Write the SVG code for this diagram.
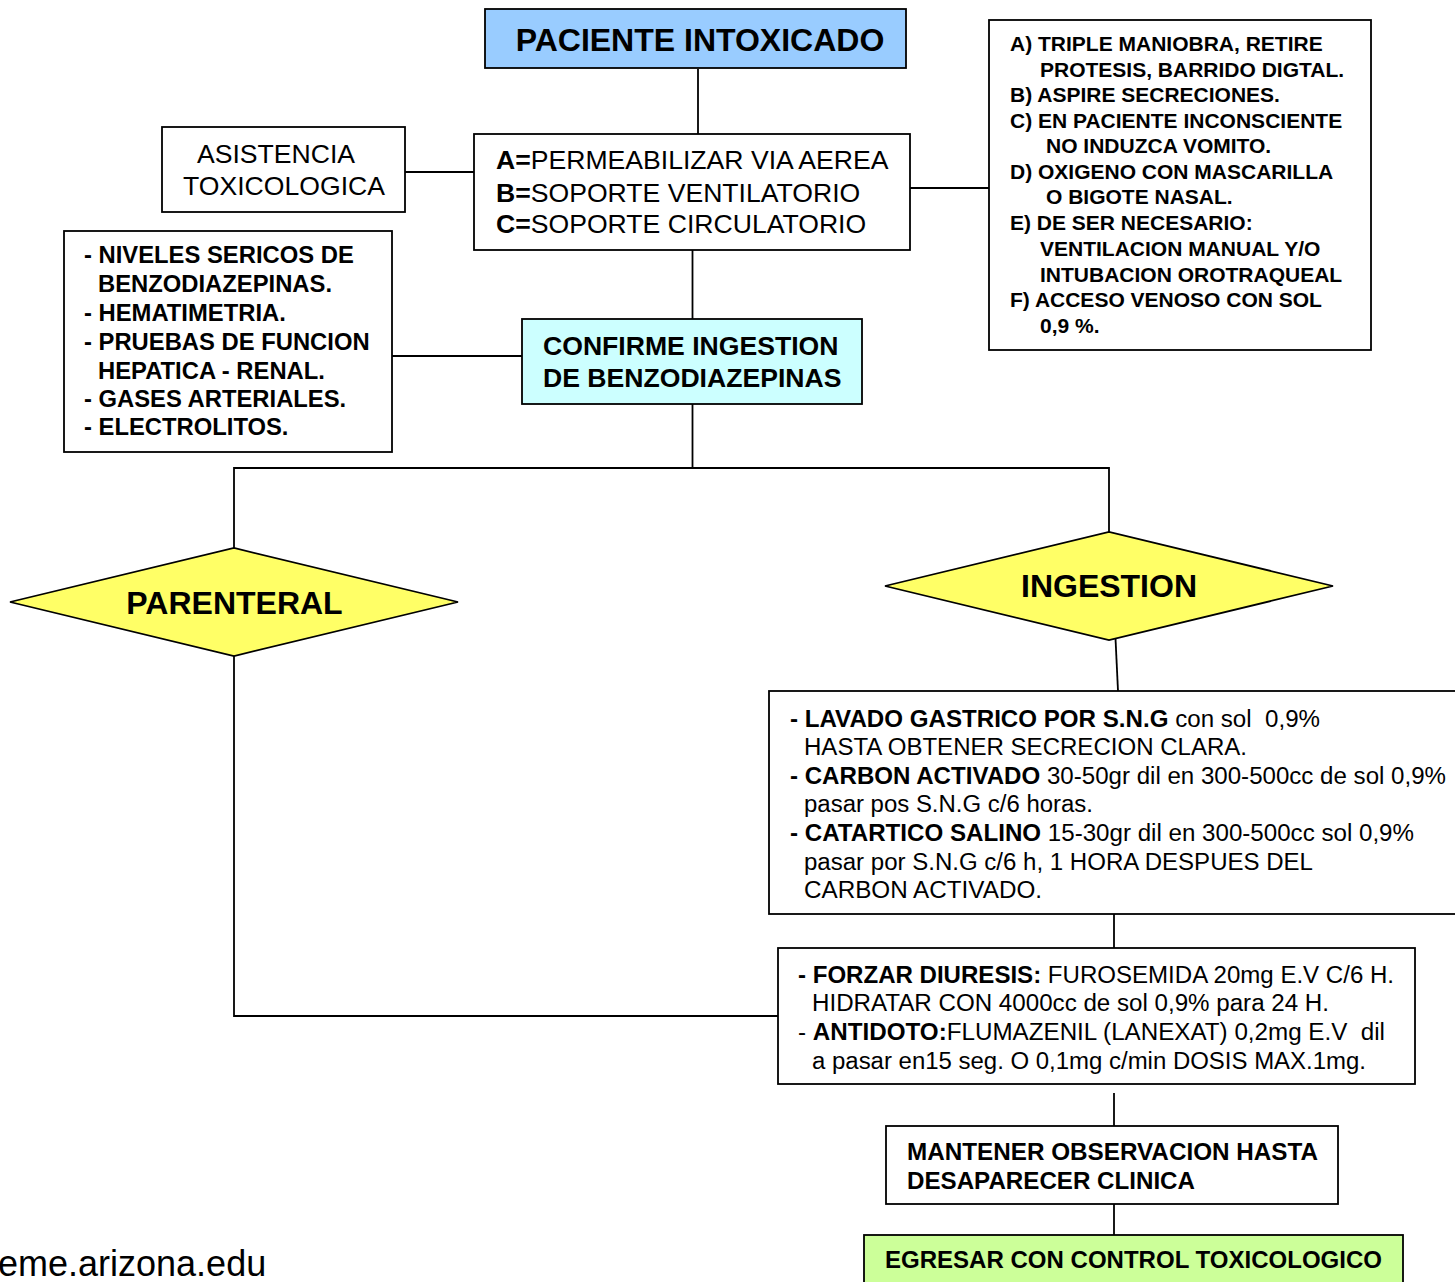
<svg xmlns="http://www.w3.org/2000/svg" width="1455" height="1282" viewBox="0 0 1455 1282">
<style>
text{font-family:"Liberation Sans",Arial,sans-serif;fill:#000}
.b{font-weight:bold}
.box{fill:#fff;stroke:#000;stroke-width:1.8}
.dia{fill:#ffff66;stroke:#000;stroke-width:1.8}
.ln{fill:none;stroke:#000;stroke-width:1.8}
.t26{font-size:26.6px}
.r{font-size:21px;font-weight:bold}
.l{font-size:23.8px;font-weight:bold}
.n{font-size:23px}
.pre{white-space:pre}
</style>
<rect width="1455" height="1282" fill="#fff"/>
<g id="connectors">
<line class="ln" x1="698" y1="69" x2="698" y2="134"/>
<line class="ln" x1="405" y1="172" x2="474" y2="172"/>
<line class="ln" x1="907" y1="188" x2="989" y2="188"/>
<line class="ln" x1="692.5" y1="240" x2="692.5" y2="324"/>
<line class="ln" x1="392" y1="356" x2="522" y2="356"/>
<polyline class="ln" points="692.5,404 692.5,468"/>
<polyline class="ln" points="234,548 234,468 1109,468 1109,532"/>
<line class="ln" x1="1115" y1="628" x2="1118" y2="691"/>
<line class="ln" x1="1114" y1="914" x2="1114" y2="948"/>
<polyline class="ln" points="234,656 234,1016 778,1016"/>
<line class="ln" x1="1114" y1="1093" x2="1114" y2="1126"/>
<line class="ln" x1="1114" y1="1204" x2="1114" y2="1236"/>
</g>
<g id="paciente">
<rect x="485" y="9" width="421" height="59" fill="#99ccff" stroke="#000" stroke-width="1.8"/>
<text class="b" x="700" y="51" font-size="32" text-anchor="middle">PACIENTE INTOXICADO</text>
</g>
<g id="abc">
<rect class="box" x="474" y="134" width="436" height="116"/>
<text class="t26" x="496" y="169"><tspan class="b">A=</tspan>PERMEABILIZAR VIA AEREA</text>
<text class="t26" x="496" y="202"><tspan class="b">B=</tspan>SOPORTE VENTILATORIO</text>
<text class="t26" x="496" y="233"><tspan class="b">C=</tspan>SOPORTE CIRCULATORIO</text>
</g>
<g id="asistencia">
<rect class="box" x="162" y="127" width="243" height="85"/>
<text class="t26" x="276" y="163" text-anchor="middle">ASISTENCIA</text>
<text class="t26" x="284" y="195" text-anchor="middle">TOXICOLOGICA</text>
</g>
<g id="medidas">
<rect class="box" x="989" y="20" width="382" height="330"/>
<text class="r" x="1010" y="51">A) TRIPLE MANIOBRA, RETIRE</text>
<text class="r" x="1040" y="77">PROTESIS, BARRIDO DIGTAL.</text>
<text class="r" x="1010" y="102">B) ASPIRE SECRECIONES.</text>
<text class="r" x="1010" y="128">C) EN PACIENTE INCONSCIENTE</text>
<text class="r" x="1046" y="153">NO INDUZCA VOMITO.</text>
<text class="r" x="1010" y="179">D) OXIGENO CON MASCARILLA</text>
<text class="r" x="1046" y="204">O BIGOTE NASAL.</text>
<text class="r" x="1010" y="230">E) DE SER NECESARIO:</text>
<text class="r" x="1040" y="256">VENTILACION MANUAL Y/O</text>
<text class="r" x="1040" y="282">INTUBACION OROTRAQUEAL</text>
<text class="r" x="1010" y="307">F) ACCESO VENOSO CON SOL</text>
<text class="r" x="1040" y="333">0,9 %.</text>
</g>
<g id="examenes">
<rect class="box" x="64" y="231" width="328" height="221"/>
<text class="l" x="84" y="263">- NIVELES SERICOS DE</text>
<text class="l" x="98" y="292">BENZODIAZEPINAS.</text>
<text class="l" x="84" y="321">- HEMATIMETRIA.</text>
<text class="l" x="84" y="350">- PRUEBAS DE FUNCION</text>
<text class="l" x="98" y="379">HEPATICA - RENAL.</text>
<text class="l" x="84" y="407">- GASES ARTERIALES.</text>
<text class="l" x="84" y="435">- ELECTROLITOS.</text>
</g>
<g id="confirme">
<rect x="522" y="319" width="340" height="85" fill="#ccffff" stroke="#000" stroke-width="1.8"/>
<text class="b" x="543" y="355" font-size="26.6">CONFIRME INGESTION</text>
<text class="b" x="543" y="387" font-size="26.6">DE BENZODIAZEPINAS</text>
</g>
<g id="parenteral">
<polygon class="dia" points="10,602 234,548 458,602 234,656"/>
<text class="b" x="234.5" y="614" font-size="32" text-anchor="middle">PARENTERAL</text>
</g>
<g id="ingestion">
<polygon class="dia" points="885,586 1109,532 1333,586 1109,640"/>
<text class="b" x="1109" y="597" font-size="32" text-anchor="middle">INGESTION</text>
</g>
<g id="lavado">
<rect class="box" x="769" y="691" width="700" height="223"/>
<text class="n pre" x="790" y="727" textLength="530" lengthAdjust="spacingAndGlyphs"><tspan class="b">- LAVADO GASTRICO POR S.N.G</tspan> con sol  0,9%</text>
<text class="n" x="804" y="755" textLength="443" lengthAdjust="spacingAndGlyphs">HASTA OBTENER SECRECION CLARA.</text>
<text class="n" x="790" y="784" textLength="656" lengthAdjust="spacingAndGlyphs"><tspan class="b">- CARBON ACTIVADO</tspan> 30-50gr dil en 300-500cc de sol 0,9%</text>
<text class="n" x="804" y="812" textLength="289" lengthAdjust="spacingAndGlyphs">pasar pos S.N.G c/6 horas.</text>
<text class="n" x="790" y="841" textLength="624" lengthAdjust="spacingAndGlyphs"><tspan class="b">- CATARTICO SALINO</tspan> 15-30gr dil en 300-500cc sol 0,9%</text>
<text class="n" x="804" y="870" textLength="509" lengthAdjust="spacingAndGlyphs">pasar por S.N.G c/6 h, 1 HORA DESPUES DEL</text>
<text class="n" x="804" y="898" textLength="238" lengthAdjust="spacingAndGlyphs">CARBON ACTIVADO.</text>
</g>
<g id="forzar">
<rect class="box" x="778" y="948" width="637" height="136"/>
<text class="n" x="798" y="983" textLength="596" lengthAdjust="spacingAndGlyphs"><tspan class="b">- FORZAR DIURESIS:</tspan> FUROSEMIDA 20mg E.V C/6 H.</text>
<text class="n" x="812" y="1011" textLength="517" lengthAdjust="spacingAndGlyphs">HIDRATAR CON 4000cc de sol 0,9% para 24 H.</text>
<text class="n pre" x="798" y="1040" textLength="587" lengthAdjust="spacingAndGlyphs">- <tspan class="b">ANTIDOTO:</tspan>FLUMAZENIL (LANEXAT) 0,2mg E.V  dil</text>
<text class="n" x="812" y="1069" textLength="554" lengthAdjust="spacingAndGlyphs">a pasar en15 seg. O 0,1mg c/min DOSIS MAX.1mg.</text>
</g>
<g id="mantener">
<rect class="box" x="886" y="1126" width="452" height="78"/>
<text class="b" x="907" y="1160" font-size="23.5" textLength="411" lengthAdjust="spacingAndGlyphs">MANTENER OBSERVACION HASTA</text>
<text class="b" x="907" y="1189" font-size="23.5" textLength="288" lengthAdjust="spacingAndGlyphs">DESAPARECER CLINICA</text>
</g>
<g id="egresar">
<rect x="864" y="1235" width="539" height="60" fill="#ccff99" stroke="#000" stroke-width="1.8"/>
<text class="b" x="885" y="1268" font-size="23.5" textLength="497" lengthAdjust="spacingAndGlyphs">EGRESAR CON CONTROL TOXICOLOGICO</text>
</g>
<text x="-2" y="1276" font-size="36">eme.arizona.edu</text>
</svg>
